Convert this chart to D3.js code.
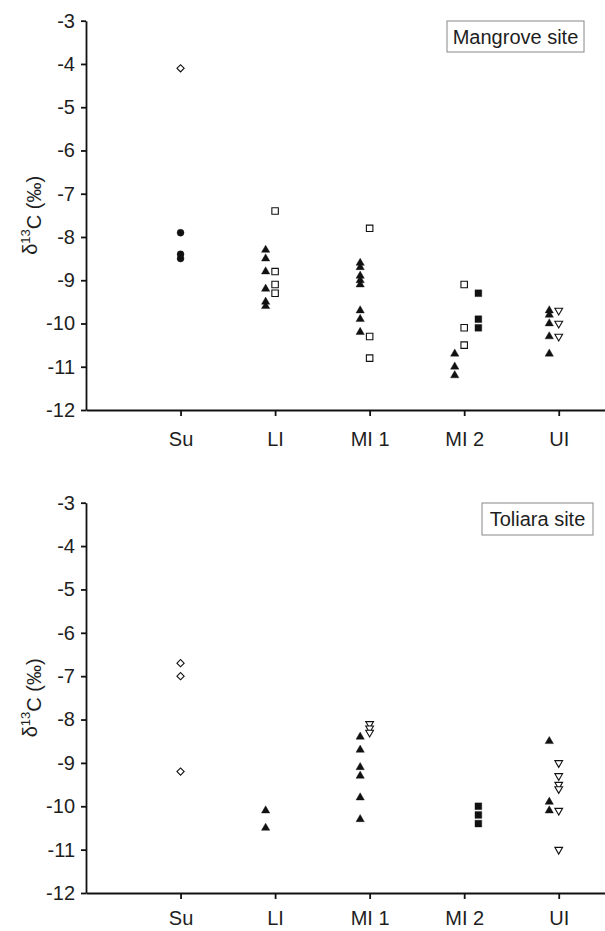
<!DOCTYPE html>
<html>
<head>
<meta charset="utf-8">
<script src="https://cdn.jsdelivr.net/npm/d3@7"></script>
<style>
  body { margin: 0; background: #fff; }
  text { font-family: "Liberation Sans", Arial, sans-serif; fill: #1e1e1e; }
</style>
</head>
<body>
<script>
const categories = ["Su", "LI", "MI 1", "MI 2", "UI"];
const yTicks = [-12, -11, -10, -9, -8, -7, -6, -5, -4, -3];

// Mangrove site: [category, d13C]
const mangroveDiamonds = [["Su", -4.1]];
const mangroveCircles = [["Su", -7.9], ["Su", -8.4], ["Su", -8.5]];
const mangroveTriangles = [
  ["LI", -8.3], ["LI", -8.5], ["LI", -8.8], ["LI", -9.2], ["LI", -9.5], ["LI", -9.6],
  ["MI 1", -8.6], ["MI 1", -8.7], ["MI 1", -8.9], ["MI 1", -9.0], ["MI 1", -9.1],
  ["MI 1", -9.7], ["MI 1", -9.9], ["MI 1", -10.2],
  ["MI 2", -10.7], ["MI 2", -11.0], ["MI 2", -11.2],
  ["UI", -9.7], ["UI", -9.8], ["UI", -10.0], ["UI", -10.3], ["UI", -10.7]
];
const mangroveOpenSquares = [
  ["LI", -7.4], ["LI", -8.8], ["LI", -9.1], ["LI", -9.3],
  ["MI 1", -7.8], ["MI 1", -10.3], ["MI 1", -10.8],
  ["MI 2", -9.1], ["MI 2", -10.1], ["MI 2", -10.5]
];
const mangroveFilledSquares = [["MI 2", -9.3], ["MI 2", -9.9], ["MI 2", -10.1]];
const mangroveDownTriangles = [["UI", -9.7], ["UI", -10.0], ["UI", -10.3]];

// Toliara site
const toliaraDiamonds = [["Su", -6.7], ["Su", -7.0], ["Su", -9.2]];
const toliaraTriangles = [
  ["LI", -10.1], ["LI", -10.5],
  ["MI 1", -8.4], ["MI 1", -8.7], ["MI 1", -9.1], ["MI 1", -9.3], ["MI 1", -9.8], ["MI 1", -10.3],
  ["UI", -8.5], ["UI", -9.9], ["UI", -10.1]
];
const toliaraFilledSquares = [["MI 2", -10.0], ["MI 2", -10.2], ["MI 2", -10.4]];
const toliaraDownTriangles = [
  ["MI 1", -8.1], ["MI 1", -8.2], ["MI 1", -8.3],
  ["UI", -9.0], ["UI", -9.3], ["UI", -9.5], ["UI", -9.6], ["UI", -10.1], ["UI", -11.0]
];

// marker styles
const markers = {
  diamond:     { type: d3.symbolSquare,   size: 26, rotate: 45,  fill: "#fff", offset: 0 },
  circle:      { type: d3.symbolCircle,   size: 38, rotate: 0,   fill: "#111", offset: 0 },
  triangle:    { type: d3.symbolTriangle, size: 30, rotate: 0,   fill: "#111", offset: -0.1 },
  openSquare:  { type: d3.symbolSquare,   size: 42, rotate: 0,   fill: "#fff", offset: 0 },
  filledSquare:{ type: d3.symbolSquare,   size: 46, rotate: 0,   fill: "#111", offset: 0.15 },
  downTriangle:{ type: d3.symbolTriangle, size: 26, rotate: 180, fill: "#fff", offset: 0 }
};

const width = 605;
const height = 931;

const svg = d3.select("body").append("svg")
  .attr("width", width)
  .attr("height", height);

const x = d3.scaleLinear().domain([0, 5.5]).range([86, 606]);
const catX = (c) => categories.indexOf(c) + 1;

function drawPanel(cfg) {
  const y = d3.scaleLinear().domain([-12, -3]).range([cfg.bottom, cfg.top]);
  const g = svg.append("g");

  const xAxis = g.append("g")
    .attr("transform", `translate(0,${cfg.bottom})`)
    .call(d3.axisBottom(x)
      .tickValues(d3.range(1, 6))
      .tickFormat((i) => categories[i - 1])
      .tickSize(6)
      .tickSizeOuter(0)
      .tickPadding(cfg.labelPad));

  const yAxis = g.append("g")
    .attr("transform", "translate(86,0)")
    .call(d3.axisLeft(y)
      .tickValues(yTicks)
      .tickFormat((d) => String(d))
      .tickSize(5)
      .tickSizeOuter(0)
      .tickPadding(6));

  [xAxis, yAxis].forEach((a) => {
    a.selectAll("path, line").attr("stroke", "#111").attr("stroke-width", 1.8);
    a.selectAll("text")
      .style("font-size", "20px")
      .style("font-family", "'Liberation Sans', Arial, sans-serif")
      .attr("fill", "#1e1e1e");
  });

  // y-axis title
  const title = g.append("text")
    .attr("transform", `translate(37,${(cfg.top + cfg.bottom) / 2}) rotate(-90)`)
    .attr("text-anchor", "middle")
    .style("font-size", "20px");
  title.append("tspan").text("δ");
  title.append("tspan").attr("dy", "-0.55em").style("font-size", "13px").text("13");
  title.append("tspan").attr("dy", "0.55em").text("C (‰)");

  // site label box
  g.append("rect")
    .attr("x", cfg.box[0]).attr("y", cfg.box[1])
    .attr("width", cfg.box[2]).attr("height", cfg.box[3])
    .attr("fill", "#fff")
    .attr("stroke", "#888")
    .attr("stroke-width", 1);
  g.append("text")
    .attr("x", cfg.box[0] + cfg.box[2] / 2)
    .attr("y", cfg.box[1] + cfg.box[3] / 2)
    .attr("dy", "0.36em")
    .attr("text-anchor", "middle")
    .style("font-size", "20px")
    .text(cfg.label);

  // points
  cfg.series.forEach(([data, key]) => {
    const m = markers[key];
    g.append("g").selectAll("path")
      .data(data)
      .join("path")
      .attr("d", d3.symbol().type(m.type).size(m.size))
      .attr("transform", (d) =>
        `translate(${x(catX(d[0]) + m.offset)},${y(d[1])}) rotate(${m.rotate})`)
      .attr("fill", m.fill)
      .attr("stroke", "#111")
      .attr("stroke-width", m.fill === "#fff" ? 1.1 : 0.4);
  });
}

drawPanel({
  top: 20.7,
  bottom: 410,
  labelPad: 16,
  label: "Mangrove site",
  box: [447, 21, 137, 31],
  series: [
    [mangroveDiamonds, "diamond"],
    [mangroveCircles, "circle"],
    [mangroveTriangles, "triangle"],
    [mangroveOpenSquares, "openSquare"],
    [mangroveFilledSquares, "filledSquare"],
    [mangroveDownTriangles, "downTriangle"]
  ]
});

drawPanel({
  top: 502.7,
  bottom: 893,
  labelPad: 12,
  label: "Toliara site",
  box: [482, 503, 111, 32],
  series: [
    [toliaraDiamonds, "diamond"],
    [toliaraTriangles, "triangle"],
    [toliaraFilledSquares, "filledSquare"],
    [toliaraDownTriangles, "downTriangle"]
  ]
});
</script>
</body>
</html>
